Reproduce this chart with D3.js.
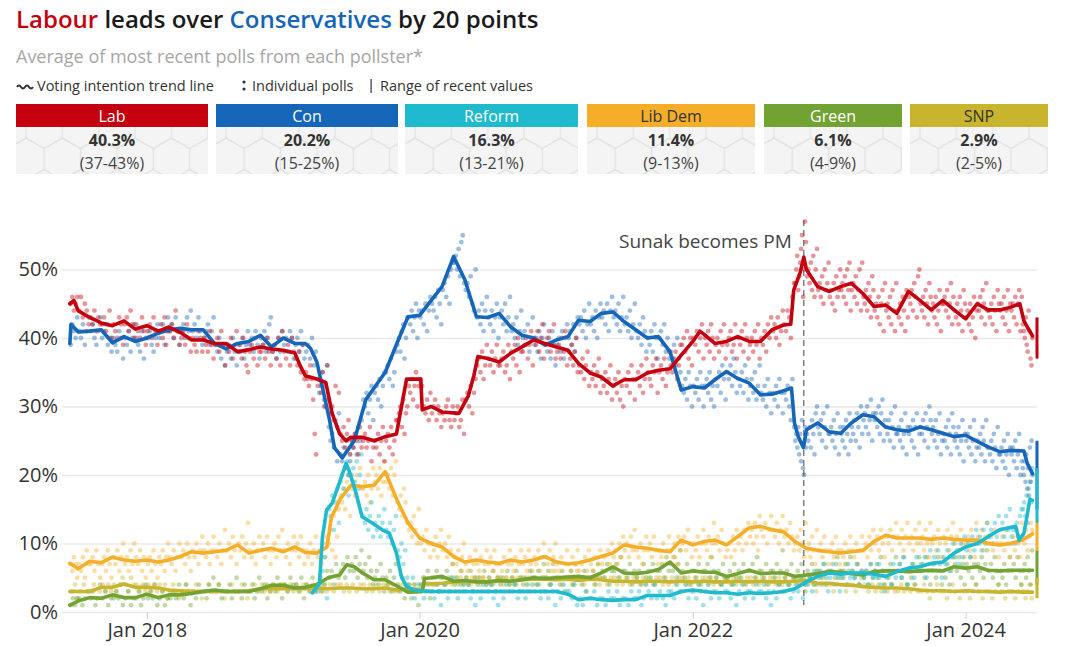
<!DOCTYPE html>
<html><head><meta charset="utf-8">
<script src="https://cdn.jsdelivr.net/npm/d3@7"></script>
<style>
body{margin:0;background:#fff;font-family:"Open Sans",sans-serif;}
svg{display:block}
</style></head><body>
<svg id="c" width="1080" height="646"></svg>
<script>
// ---------- DATA ----------
const parties   = ["Lab","Con","Reform","Lib Dem","Green","SNP"];
const colours   = ["#c4000f","#1565b8","#1fbacd","#f5ae28","#71a232","#c9b42e"];
const latest    = [40.3,20.2,16.3,11.4,6.1,2.9];
const rangeLo   = [37,15,13,9,4,2];
const rangeHi   = [43,25,21,13,9,5];
const yTicks    = [0,10,20,30,40,50];
const xTicks    = ["2018-01","2020-01","2022-01","2024-01"];
const sunakDate = "2022-10-25";
const sunakLabel= "Sunak becomes PM";

const labTrend = [["2017-06-09",45],["2017-06-20",45.5],["2017-07",44],["2017-08",43],["2017-09",42.2],["2017-10",41.8],["2017-11",42.5],["2017-12",41.3],["2018-01",41.8],["2018-02",41],["2018-03",41.6],["2018-04",40.8],["2018-05",39.7],["2018-06",39.7],["2018-07",39.2],["2018-08",39.2],["2018-09",38],["2018-10",38.3],["2018-11",38.7],["2018-12",38.4],["2019-01",38.2],["2019-02",37.8],["2019-02-15",36],["2019-03",34.5],["2019-04",34],["2019-04-25",33.5],["2019-05-12",29],["2019-06",26],["2019-06-18",25],["2019-07",25.5],["2019-08",25.5],["2019-09",25],["2019-10",25.6],["2019-10-31",26],["2019-11-27",34],["2020-01-04",34],["2020-01-08",29.5],["2020-02",30],["2020-03",29.2],["2020-04-15",29],["2020-05-10",31.5],["2020-05-25",34.5],["2020-06-05",37.3],["2020-07",37],["2020-08",36.5],["2020-09",37.8],["2020-10",38.7],["2020-11",39.7],["2020-12",39.2],["2021-01",38.7],["2021-02",38.2],["2021-03",36.3],["2021-04",34.9],["2021-05",34.3],["2021-06",33],["2021-07",33.9],["2021-08",33.9],["2021-09",34.9],["2021-10",35.3],["2021-11",35.5],["2021-12",37.5],["2022-01",39.5],["2022-01-20",41],["2022-02",40.5],["2022-03",39.2],["2022-04",39.5],["2022-05",40.2],["2022-06",39.5],["2022-07",39.5],["2022-08",41.2],["2022-09",41.9],["2022-09-20",42],["2022-09-28",47],["2022-10-15",49.5],["2022-10-25",51.8],["2022-11",50],["2022-12",47.5],["2023-01",46.8],["2023-02",47.5],["2023-03",48],["2023-04",46.5],["2023-05",44.6],["2023-06",44.8],["2023-07",43.6],["2023-08",46.8],["2023-09",45.5],["2023-10",44.1],["2023-11",45.5],["2023-12",44.1],["2024-01",42.8],["2024-02",45],["2024-03",44.1],["2024-04",44.1],["2024-05",44.5],["2024-05-25",45],["2024-06-05",42.5],["2024-06-15",41.5],["2024-06-28",40.3]];

const conTrend = [["2017-06-09",39.2],["2017-06-12",42],["2017-07",40.9],["2017-08",41],["2017-09",41.2],["2017-10",39.3],["2017-11",40.2],["2017-12",39.5],["2018-01",40],["2018-02",40.7],["2018-03",41.2],["2018-04",41.4],["2018-05",41.2],["2018-06",41.2],["2018-07",39.2],["2018-08",38.4],["2018-09",39.2],["2018-10",39.5],["2018-11",40.4],["2018-12",38.7],["2019-01",40],["2019-02",39.2],["2019-03",39.2],["2019-03-15",38.5],["2019-04",36.5],["2019-04-15",33],["2019-05-05",28],["2019-05-18",24],["2019-06-08",22.5],["2019-07-10",25],["2019-08-10",31],["2019-09-05",33],["2019-10",35],["2019-11",39.2],["2019-12",43.1],["2020-01",43.3],["2020-02",45.5],["2020-03",47.5],["2020-04",51.9],["2020-05",48.5],["2020-06",43.1],["2020-07",43],["2020-08",43.6],["2020-09",41.6],["2020-10",40.4],["2020-11",40],["2020-12",39],["2021-01",39.7],["2021-02",40.2],["2021-03",42.6],["2021-04",42.4],["2021-05",43.6],["2021-06",43.8],["2021-07",42.4],["2021-08",41.2],["2021-09",40],["2021-10",40.2],["2021-11",38],["2021-12",32.4],["2022-01",32.9],["2022-02",32.7],["2022-03",33.9],["2022-04",35.1],["2022-05",34.1],["2022-06",33.4],["2022-07",31.7],["2022-08",31.8],["2022-09",32.3],["2022-09-22",32.7],["2022-09-30",27.6],["2022-10-10",25.6],["2022-10-24",24],["2022-11",26.6],["2022-12",27.6],["2023-01",26.3],["2023-02",26.1],["2023-03",27.6],["2023-04",28.8],["2023-05",28.5],["2023-06",27],["2023-07",26.6],["2023-08",26.4],["2023-09",27],["2023-10",26.6],["2023-11",26.1],["2023-12",25.6],["2024-01",25.8],["2024-02",24.9],["2024-03",24.1],["2024-04",23.4],["2024-05",23.6],["2024-06-05",23.5],["2024-06-14",21.7],["2024-06-28",20.2]];

const reformTrend = [["2019-03-20",2.8],["2019-04-08",4.2],["2019-04-16",11],["2019-04-27",14.9],["2019-05-12",15.9],["2019-05-31",18.8],["2019-06-18",21.7],["2019-06-26",20.7],["2019-07-15",17.3],["2019-07-31",13.9],["2019-08-27",13],["2019-09-23",12],["2019-10-12",11.5],["2019-10-31",8.6],["2019-11-13",5.2],["2019-11-27",3.7],["2019-12-19",3.2],["2020-01",3.1],["2020-02",3],["2020-03",3],["2020-04",3],["2020-05",3],["2020-06",3],["2020-07",3],["2020-08",3],["2020-09",3],["2020-10",3],["2020-11",3],["2020-12",3],["2021-01",3],["2021-02",2.6],["2021-03",1.8],["2021-04",2],["2021-05",1.8],["2021-06",1.7],["2021-07",1.8],["2021-08",1.8],["2021-09",2.4],["2021-10",2.4],["2021-11",2.4],["2021-12",3],["2022-01",3.2],["2022-02",3],["2022-03",2.8],["2022-04",2.8],["2022-05",2.6],["2022-06",2.8],["2022-07",2.7],["2022-08",2.8],["2022-09",3],["2022-10",3.4],["2022-11",4.4],["2022-12",5.2],["2023-01",5.7],["2023-02",5.5],["2023-03",5.7],["2023-04",5.7],["2023-05",5.5],["2023-06",5.2],["2023-07",5.9],["2023-08",6.4],["2023-09",6.6],["2023-10",7.1],["2023-11",7.3],["2023-12",8.6],["2024-01",9.5],["2024-02",10],["2024-03",11],["2024-04",12],["2024-05-14",12.5],["2024-05-23",10.5],["2024-06-05",11.5],["2024-06-13",13.9],["2024-06-21",16.5],["2024-06-28",16.3]];

const ldTrend = [["2017-06-09",7.1],["2017-07",6.3],["2017-08",7.4],["2017-09",7.2],["2017-10",8],["2017-11",7.6],["2017-12",7.4],["2018-01",7.6],["2018-02",7.3],["2018-03",7.6],["2018-04",8.1],["2018-05",8.8],["2018-06",8.6],["2018-07",8.8],["2018-08",9],["2018-09",9.8],["2018-10",8.6],["2018-11",9],["2018-12",9.3],["2019-01",8.8],["2019-02",9.5],["2019-03",8.7],["2019-04",8.6],["2019-04-28",9.5],["2019-05-10",13.9],["2019-05-20",14.9],["2019-06",16.4],["2019-07",18.5],["2019-08",18.3],["2019-09",18.5],["2019-10",20.5],["2019-11",16.4],["2019-12",13],["2020-01",10.8],["2020-02",10],["2020-03",9.5],["2020-04",8.1],["2020-05",7.3],["2020-06",7.6],["2020-07",7.3],["2020-08",7.1],["2020-09",7.6],["2020-10",7.3],["2020-11",7.6],["2020-12",8.1],["2021-01",7.3],["2021-02",7],["2021-03",7.2],["2021-04",7.6],["2021-05",8.1],["2021-06",8.6],["2021-07",9.8],["2021-08",9.5],["2021-09",9.3],["2021-10",9],["2021-11",8.8],["2021-12",10.5],["2022-01",9.8],["2022-02",10.3],["2022-03",10.5],["2022-04",9.8],["2022-05",11],["2022-06",12.3],["2022-07",12.5],["2022-08",12],["2022-09",11.7],["2022-10",10.3],["2022-11",9.3],["2022-12",9],["2023-01",8.8],["2023-02",8.6],["2023-03",8.8],["2023-04",9],["2023-05",10.3],["2023-06",11.2],["2023-07",10.8],["2023-08",10.8],["2023-09",10.8],["2023-10",10.6],["2023-11",10.8],["2023-12",10.6],["2024-01",10.5],["2024-02",10.5],["2024-03",10],["2024-04",9.8],["2024-05",10],["2024-06",10.5],["2024-06-28",11.4]];

const greenTrend = [["2017-06-09",1],["2017-07",1.6],["2017-08",2.1],["2017-09",2],["2017-10",2.5],["2017-11",2.1],["2017-12",2.1],["2018-01",2.6],["2018-02",2.1],["2018-03",2.5],["2018-04",2.5],["2018-05",2.7],["2018-06",3],["2018-07",3.2],["2018-08",3],["2018-09",3],["2018-10",3],["2018-11",3.4],["2018-12",3.9],["2019-01",3.9],["2019-02",3.5],["2019-03",3.6],["2019-04",4],["2019-05",5],["2019-06",5.4],["2019-06-20",6.9],["2019-07-10",6.6],["2019-08",5.7],["2019-09",4.7],["2019-10",4.7],["2019-11",3.8],["2019-12",2.9],["2020-01-08",3],["2020-01-14",4.9],["2020-02",5],["2020-03",5.2],["2020-04",4.5],["2020-05",4.6],["2020-06",4.4],["2020-07",4.4],["2020-08",4.6],["2020-09",4.5],["2020-10",4.7],["2020-11",5],["2020-12",4.9],["2021-01",5],["2021-02",5.1],["2021-03",5.2],["2021-04",5],["2021-05",5.7],["2021-06",6.6],["2021-07",5.7],["2021-08",5.6],["2021-09",5.8],["2021-10",6.2],["2021-11",7.3],["2021-12",5.7],["2022-01",6],["2022-02",5.8],["2022-03",5.8],["2022-04",5.2],["2022-05",5.6],["2022-06",6.1],["2022-07",5.6],["2022-08",5.7],["2022-09",5.7],["2022-10",5.2],["2022-11",5.4],["2022-12",5.6],["2023-01",5.9],["2023-02",5.8],["2023-03",5.6],["2023-04",5.4],["2023-05",5.9],["2023-06",6],["2023-07",6],["2023-08",5.9],["2023-09",6],["2023-10",6.1],["2023-11",6],["2023-12",6.6],["2024-01",6.4],["2024-02",6.6],["2024-03",6.1],["2024-04",6],["2024-05",6.1],["2024-06",6.1],["2024-06-28",6.1]];

const snpTrend = [["2017-06-09",3],["2017-07",3],["2017-08",3],["2017-09",3.6],["2017-10",3.6],["2017-11",4.1],["2017-12",3.6],["2018-01",3.6],["2018-02",3.5],["2018-03",3.2],["2018-04",3.1],["2018-05",3],["2018-06",3],["2018-07",3],["2018-08",3],["2018-09",3],["2018-10",3.1],["2018-11",3.4],["2018-12",3.4],["2019-01",3.4],["2019-02",3.4],["2019-03",3.4],["2019-04",3.5],["2019-05",3.4],["2019-06",3.5],["2019-07",3.5],["2019-08",3.4],["2019-09",3.4],["2019-10",3.5],["2019-11",3.2],["2019-12",3.4],["2020-01-08",3.3],["2020-01-14",4.2],["2020-02",4.1],["2020-03",4.2],["2020-04",4.4],["2020-05",4.4],["2020-06",4.5],["2020-07",4.4],["2020-08",4.5],["2020-09",4.5],["2020-10",4.7],["2020-11",4.8],["2020-12",4.8],["2021-01",4.7],["2021-02",4.8],["2021-03",4.6],["2021-04",4.8],["2021-05",4.7],["2021-06",4.5],["2021-07",4.5],["2021-08",4.4],["2021-09",4.5],["2021-10",4.5],["2021-11",4.4],["2021-12",4.5],["2022-01",4.4],["2022-02",4.5],["2022-03",4.4],["2022-04",4.4],["2022-05",4.5],["2022-06",4.4],["2022-07",4.5],["2022-08",4.4],["2022-09",4.4],["2022-10",4.5],["2022-11",4.6],["2022-12",4.2],["2023-01",4.2],["2023-02",4],["2023-03",3.9],["2023-04",3.7],["2023-05",3.6],["2023-06",3.5],["2023-07",3.5],["2023-08",3.4],["2023-09",3.2],["2023-10",3.1],["2023-11",3.1],["2023-12",3],["2024-01",3.1],["2024-02",3],["2024-03",3],["2024-04",2.9],["2024-05",3],["2024-06",2.9],["2024-06-28",2.9]];

// Individual polls: one string per month (Jun 2017 onwards), integer poll shares
const labPolls = ["45 46 44 45 46","44 46 43 45 44 42","43 42 44 41 43 42","42 43 41 42 44 40","42 41 40 43 42 39","42 43 41 44 42 40","42 41 40 43 41 39","41 42 40 43 41 39","41 42 40 43 39 41","41 42 40 44 41 39","40 41 39 42 40 38","40 39 38 41 40 38","40 39 38 41 39 37","39 40 38 41 39 36","39 38 40 37 39 41","38 39 37 40 38 36 35","38 39 37 40 36 38","38 39 37 40 38 36","38 39 37 40 36 41","38 37 39 36 40 38","37 36 38 35 39 34","35 34 33 36 34 31 26 23","33 34 32 35 30 33 36","31 29 30 28 33 27 32","26 25 27 24 26 28 23","25 24 26 25 23 27 24","25 26 24 25 27 22 24","25 24 26 23 25 27 22","25 26 24 27 23 25 28","28 29 30 27 31 26 29 30","33 32 34 31 33 35 30 33","34 33 30 29 31 28 32","29 30 31 28 30 29 27","29 28 30 31 28 27 30","28 29 30 27 28 31 26","31 32 30 33 29 32 34","36 37 35 38 34 36 39","37 36 38 35 37 39 36","36 37 38 35 36 39 34","38 37 39 36 40 35 38","38 39 40 37 39 41 36","40 39 41 38 40 42 37","39 40 41 38 39 42 37","38 39 37 40 38 41 36","38 37 39 36 38 40 35","36 35 37 34 36 38 33","35 34 36 33 35 37 32","34 33 35 32 34 36 31","33 34 32 35 31 33 30","34 33 35 32 36 34 31","34 35 33 36 32 34 37","35 34 33 36 35 37 32","35 36 34 37 33 35 38","36 35 37 38 34 36 39","39 40 38 41 37 40 36","40 39 41 38 40 42 37","40 39 41 38 42 40 37","39 40 38 41 39 42 37","39 40 41 38 39 42 37","40 39 41 38 42 40 37","39 40 38 41 39 42 37","40 39 41 38 42 40 43","41 42 40 43 39 41 44","42 41 44 43 40 46 48","48 50 52 47 49 51 53 55 46 50 57 54","49 50 48 51 47 52 46 50 53","47 48 46 49 45 50 47 48 51","46 47 45 48 44 49 46 47 50","47 48 46 49 45 50 47 51 44","47 48 46 49 45 47 50 44 51","46 45 47 44 48 46 43 49 47","44 45 43 46 42 45 47 41 48","44 45 43 46 42 47 44 41 48","44 43 45 42 46 44 41 47 43","46 45 47 44 48 46 43 49 50","45 44 46 43 47 45 42 48 46","44 45 43 46 42 44 47 41 45","45 46 44 47 43 45 48 42 46","44 43 45 42 46 44 41 47 45","43 44 42 45 41 43 46 40 44","45 44 46 43 47 45 42 48 44","44 43 45 42 46 44 41 47 45","44 45 43 46 42 44 47 41 45","44 45 43 46 42 45 47 41 46","42 41 40 43 39 38 44 41 37 36 40"];

const conPolls = ["39 42 41 40 43","41 40 42 39 41 43","41 42 40 39 41 43","40 41 42 39 40 38","40 39 38 41 40 37","40 39 41 38 40 42","40 39 38 41 37 40","40 41 39 38 40 42","40 41 42 39 41 43","41 42 40 43 41 39","41 42 40 43 41 44","41 42 40 43 41 39","40 41 42 39 41 43","39 38 40 37 39 36","38 39 37 40 38 36","39 38 40 37 39 41","39 40 38 41 39 37","40 39 41 38 40 42 43","38 39 37 40 38 41","39 40 38 41 40 37","39 40 38 41 39 37","38 39 37 40 36 38","34 32 33 35 31 30 36","27 25 26 24 28 22 29","23 22 24 21 25 20 22","25 24 26 23 27 25 28","31 30 32 29 31 33 28","32 33 31 34 30 33 35","35 36 34 37 33 35 38","39 40 38 41 42 37 40 43","43 42 44 41 43 45 40 44","43 44 42 45 41 44 46","45 44 46 43 47 45 42","47 48 46 49 45 50 51","51 52 50 53 49 54 55 48","47 48 46 49 45 44 50","43 44 42 45 41 44 46","43 42 44 41 43 45 40","43 44 42 45 41 43 46","41 42 40 43 39 41 44","40 41 39 42 38 40 43","39 40 38 41 37 40 42","39 38 40 37 41 39 36","39 40 38 41 37 40 42","40 41 39 42 38 40 43","42 43 41 44 40 42 45","42 43 41 44 40 43 45","43 44 42 45 41 44 46","43 44 42 45 41 43 46","42 43 41 44 40 42 45","41 40 42 39 43 41 38","40 39 41 38 42 40 37","40 41 39 42 38 40 37","38 37 39 36 40 37 35","33 32 34 31 35 33 30","33 32 34 31 35 33 30","33 34 32 35 31 33 30","34 33 35 32 36 34 31","35 34 36 33 37 35 32","34 33 35 32 36 34 31","33 34 32 35 31 33 36","32 31 33 30 34 32 29","32 31 33 30 34 32 29","32 31 33 30 28 34 27","25 26 24 27 23 26 22 28 21 20 27 24","26 25 27 24 28 26 23 29 30","27 26 28 25 29 27 24 30 26","26 27 25 28 24 26 29 23 27","26 25 27 24 28 26 23 29 25","27 26 28 25 29 27 24 30 26","28 29 27 30 26 28 31 25 29","28 29 27 30 26 29 31 25 28","27 26 28 25 29 27 24 30 26","26 27 25 28 24 26 29 23 27","26 27 25 28 24 27 29 23 26","27 26 28 25 29 27 24 30 28","26 27 25 28 24 26 29 23 25","26 25 27 24 28 26 23 29 27","25 26 24 27 23 25 28 22 26","25 26 24 27 23 25 28 22 24","25 24 26 23 27 25 22 28 24","24 23 25 22 26 24 21 27 23","23 24 22 25 21 23 26 20 24","23 24 22 25 21 23 26 20 22","21 20 22 19 23 18 21 17 24 19 25 20"];

const ldPolls = ["7 6 8 7 5","7 6 8 5 9 7","7 8 6 9 7 5","7 8 6 9 7 5","8 7 9 6 8 10","7 8 6 9 7 10","8 7 9 6 8 5","7 8 6 9 7 5","8 7 9 6 8 10","8 7 9 6 8 10","8 9 7 10 8 6","9 8 10 7 9 11","9 8 10 7 9 11","9 8 10 7 9 12","9 10 8 11 9 7","10 9 11 8 10 13","9 8 10 7 9 11","9 10 8 11 9 7","9 10 8 11 9 12","9 8 10 7 9 11","9 10 8 11 9 7","9 8 10 7 9 11","8 9 7 10 8 11","10 12 9 14 8 11 15","17 16 18 15 19 20 14","18 19 17 20 16 21 18","18 19 17 20 16 18 21","19 20 18 21 17 19 22","19 20 18 21 17 20 22","16 15 17 14 18 16 13","12 13 11 14 12 10 15","10 11 9 12 10 8","10 9 11 8 10 12","9 10 8 11 9 7","8 7 9 6 8 10","7 6 8 5 7 9","7 6 8 5 7 9","7 8 6 9 7 5","7 6 8 5 7 9","7 6 8 5 7 9","7 8 6 9 7 5","8 7 9 6 8 10","8 7 9 6 8 10","7 6 8 5 7 9","7 6 8 5 7 9","6 7 5 8 6 9","7 6 8 5 7 9","7 8 6 9 7 10","8 9 7 10 8 11","9 10 8 11 9 12","9 8 10 7 9 11","9 10 8 11 9 7","9 8 10 7 9 11","9 8 10 7 11 9","10 11 9 12 10 8","10 9 11 8 10 12","10 9 11 8 10 13","10 11 9 12 10 8","9 10 8 11 9 12","10 11 9 12 10 13","11 12 10 13 11 9 14","12 11 13 10 12 14","12 11 13 10 12 14","11 12 10 13 11 9","10 11 9 12 10 8 13","9 10 8 11 9 7 12","9 10 8 11 9 7","9 10 8 11 9 7","9 8 10 7 9 11","9 8 10 7 9 11","9 10 8 11 9 12","10 11 9 12 10 8","11 10 12 9 11 13","11 10 12 9 11 13","10 11 9 12 10 13","10 11 9 12 10 8 13","10 11 9 12 10 8","11 10 12 9 11 13","10 11 9 12 10 8","10 11 9 12 10 8 13","11 10 12 9 11 13","10 11 9 12 10 8","10 11 9 12 10 8","10 11 9 12 10 8 13","11 10 12 9 11 13 12"];

const reformPollsStart = "2019-04";
const reformPolls = ["3 4 6 8 2","15 14 17 12 16 18 13","19 20 18 21 22 17 23","20 21 19 22 18 20 23","14 13 15 12 14 16 11","13 12 14 11 13 15","12 11 13 10 12 14","9 8 10 7 9 5","4 3 5 2 3 4","3 2 4 3","3 2 4 3 1","3 4 2 3 5","3 2 4 3","3 4 2 3 1","3 2 4 3","3 4 2 3 1","3 2 4 3","3 4 2 3","3 2 4 3 5","3 4 2 3","3 2 4 3 1","3 2 4 3","3 2 4 1","2 1 3 2","2 3 1 2","2 1 3 2","2 3 1 2","2 1 3 2","2 3 1 2 4","3 2 4 2","3 2 1 3","3 2 4 3","3 4 2 3","3 2 4 3 1","3 4 2 3","3 2 4 3","3 2 4 1","3 4 2 3","3 2 4 3","3 4 2 3 1","3 2 4 3","3 4 2 3","4 3 5 2 4","4 5 3 6 4","5 6 4 7 5 3","5 6 4 7 5 3","5 6 4 7 5","6 5 7 4 6","5 6 4 7 5","6 5 7 4 6 3","5 6 4 7 5","6 7 5 8 6 4","6 7 5 8 6","7 6 8 5 7 9","7 8 6 9 7 5","8 7 9 6 8 10","8 9 7 10 8 11","9 10 8 11 9 12","10 11 9 12 10 13","11 12 10 13 11 14","12 13 11 14 12 15","11 12 10 13 11 14 15","15 16 14 17 13 18 19 16 21"];

const greenPolls = ["1 2 1 2","2 1 2 3","2 3 1 2 4","2 3 1 2","2 3 2 4 1","2 3 1 2","2 3 1 2 4","2 3 2 4 1","2 3 1 2","2 3 2 4","3 2 4 3 1","3 2 4 3","3 2 4 3 5","3 4 2 3","3 4 2 3 5","3 2 4 3","3 4 2 3 5","3 4 2 3","4 3 5 4 2","4 3 5 4","4 3 5 2","4 3 5 3","4 5 3 4 6","5 6 4 7 5","6 7 5 8 6","7 6 8 5 7 9","6 7 5 8 6 4","5 6 4 7 5 3","5 4 6 3 5 7","4 3 5 2 4","3 2 4 3 1","4 5 3 6 2","5 4 6 3 5","5 4 6 3 5 7","4 5 3 6 4","5 4 6 3 5","4 5 3 6 4","5 4 6 3 5","4 5 3 6 4","5 4 6 3 5","4 5 3 6 4","5 4 6 3 5 7","5 6 4 7 5","5 4 6 3 5","5 6 4 7 5","5 4 6 3 5","5 6 4 7 5","6 5 7 4 6","6 7 5 8 6","6 5 7 4 6","5 6 4 7 5","6 5 7 4 6","6 7 5 8 6","7 6 8 5 7 9","6 5 7 4 6","6 5 7 4 6","6 7 5 8 6","5 6 4 7 5","5 6 4 7 5","6 5 7 4 6","6 7 5 8 6","6 5 7 4 6","6 5 7 4 6 9","5 6 4 7 5","5 6 4 7 5 3","6 5 7 4 6","6 5 7 4 6","6 7 5 8 6","6 5 7 4 6 8","6 5 7 4 6","5 6 4 7 5","6 7 5 8 6 4","6 5 7 4 6 8","6 7 5 8 6 4","6 5 7 4 6 8","6 7 5 8 6 4","6 7 5 8 6 4","6 5 7 4 6 8","7 6 8 5 7 4","7 6 8 5 7 4","7 6 8 5 7 9","6 7 5 8 6 4","6 5 7 4 6 8","6 7 5 8 6 4","6 7 5 8 6 4 9"];

const snpPolls = ["3 3 4 2","3 4 3","3 4 2 3","4 3 4 3","4 3 4 5","4 3 5 4","4 3 4 3","4 3 4 3","4 3 4 2","3 4 3 2","3 4 3","3 4 3 2","3 4 3","3 4 3 2","3 4 3","3 4 3 2","3 4 3","4 3 4 3","4 3 4","4 3 4 3","4 3 4","4 3 4 3","4 3 4 3","4 3 4","4 3 4 3","4 3 4","4 3 4 3","4 3 4","4 3 4 3","3 4 3","4 3 4 3","4 5 3 4","4 5 4 3","4 5 4","5 4 5 4","5 4 5","5 4 5 4","5 4 5","5 4 5 4","5 4 5","5 4 5 6","5 4 5","5 4 5 6","5 4 5","5 4 5 6","5 4 5","5 4 5 4","5 4 5","5 4 5 4","5 4 5","5 4 5 4","5 4 5","5 4 5 4","5 4 5","5 4 5 4","5 4 5","5 4 5 4","5 4 5","5 4 5 4","5 4 5","5 4 5 4","5 4 5","5 4 5 4","5 4 5","4 5 4","4 5 4 3","4 5 4","4 3 4 5","4 3 4","4 3 4 5","4 3 4","3 4 3 4","3 4 3","3 4 3 4","3 4 3","3 4 3 2","3 4 3","3 2 3 4","3 2 3","3 2 3 4","3 2 3","3 2 3 4","3 2 3","3 2 3 4","3 2 3 4 2"];

// ---------- CHART ----------
const svg = d3.select("#c");
const FONT = '"Open Sans", sans-serif';
const pd = s => s.length === 7 ? d3.timeParse("%Y-%m")(s) : d3.timeParse("%Y-%m-%d")(s);

const trends  = [labTrend, conTrend, reformTrend, ldTrend, greenTrend, snpTrend];
const pollSets = [
  {p:0, start:"2017-06", list:labPolls},
  {p:1, start:"2017-06", list:conPolls},
  {p:2, start:reformPollsStart, list:reformPolls},
  {p:3, start:"2017-06", list:ldPolls},
  {p:4, start:"2017-06", list:greenPolls},
  {p:5, start:"2017-06", list:snpPolls}
];

// Title
const title = svg.append("text").attr("x",16).attr("y",28)
  .style("font-family",FONT).style("font-size","24px").style("font-weight",600).attr("fill","#1a1a1a");
title.append("tspan").attr("fill",colours[0]).text("Labour");
title.append("tspan").text(" leads over ");
title.append("tspan").attr("fill",colours[1]).text("Conservatives");
title.append("tspan").text(" by 20 points");

svg.append("text").attr("x",16).attr("y",63).style("font-family",FONT).style("font-size","18px")
  .attr("fill","#a6a6a6").text("Average of most recent polls from each pollster*");

// legend line
const lg = svg.append("g").style("font-family",FONT).style("font-size","14.5px").attr("fill","#333");
lg.append("path").attr("d","M17,87 q2,-3 4,0 t4,0 t4,0 t4,0").attr("fill","none").attr("stroke","#333").attr("stroke-width",2);
lg.append("text").attr("x",37).attr("y",91).text("Voting intention trend line");
lg.append("circle").attr("cx",244).attr("cy",82).attr("r",1.6).attr("fill","#333");
lg.append("circle").attr("cx",244).attr("cy",89).attr("r",1.6).attr("fill","#333");
lg.append("text").attr("x",252).attr("y",91).text("Individual polls");
lg.append("rect").attr("x",370.5).attr("y",79).attr("width",1.2).attr("height",14).attr("fill","#333");
lg.append("text").attr("x",380).attr("y",91).text("Range of recent values");

// hex pattern
const defs = svg.append("defs");
const r = 21, hw = r*Math.sqrt(3);
const pat = defs.append("pattern").attr("id","hex").attr("patternUnits","userSpaceOnUse")
  .attr("width",hw).attr("height",3*r).attr("x",10).attr("y",118);
pat.append("rect").attr("width",hw).attr("height",3*r).attr("fill","#f4f4f4");
const hexPath = (cx,cy) => {
  const pts = d3.range(6).map(i => { const a = Math.PI/3*i + Math.PI/6; return [cx + r*Math.cos(a), cy + r*Math.sin(a)]; });
  return "M" + pts.map(p => p.join(",")).join("L") + "Z";
};
[[0,0],[hw,0],[hw/2,1.5*r],[0,3*r],[hw,3*r]].forEach(([cx,cy]) =>
  pat.append("path").attr("d",hexPath(cx,cy)).attr("fill","none").attr("stroke","#e3e3e3").attr("stroke-width",1.2));

// party boxes
const boxX = [16,216,405,587,764,910];
const boxW = [192,182,173,168,138,138];
const darkHead = [false,false,false,true,false,true];
const bx = svg.append("g").style("font-family",FONT);
parties.forEach((p,i) => {
  const g = bx.append("g").attr("transform",`translate(${boxX[i]},104)`);
  g.append("rect").attr("width",boxW[i]).attr("height",23).attr("fill",colours[i]);
  g.append("rect").attr("y",23).attr("width",boxW[i]).attr("height",47).attr("fill","url(#hex)");
  g.append("text").attr("x",boxW[i]/2).attr("y",17.5).attr("text-anchor","middle").style("font-size","16px")
    .attr("fill",darkHead[i] ? "#333" : "#fff").text(p);
  g.append("text").attr("x",boxW[i]/2).attr("y",41.5).attr("text-anchor","middle").style("font-size","16px")
    .style("font-weight",700).attr("fill","#333").text(d3.format(".1f")(latest[i]) + "%");
  g.append("text").attr("x",boxW[i]/2).attr("y",64.5).attr("text-anchor","middle").style("font-size","16px")
    .attr("fill","#444").text(`(${rangeLo[i]}-${rangeHi[i]}%)`);
});

// scales
const x = d3.scaleTime().domain([pd("2017-05-19"), pd("2024-07-10")]).range([62,1037]);
const y = d3.scaleLinear().domain([0,50]).range([612,269.5]);

// y grid + labels
const ya = svg.append("g").attr("transform","translate(62,0)")
  .call(d3.axisLeft(y).tickValues(yTicks).tickSize(-975).tickPadding(4).tickFormat(d => d + "%"));
ya.select(".domain").remove();
ya.selectAll(".tick line").attr("stroke","#e8e8e8").attr("stroke-width",1.5);
ya.selectAll(".tick text").style("font-family",FONT).style("font-size","20px").attr("fill","#333");

// x axis
const xa = svg.append("g").attr("transform","translate(0,612)")
  .call(d3.axisBottom(x).tickValues(xTicks.map(pd)).tickSize(7).tickPadding(4).tickFormat(d3.timeFormat("Jan %Y")));
xa.select(".domain").remove();
xa.selectAll(".tick line").attr("stroke","#d6d6d6").attr("stroke-width",1.2);
xa.selectAll(".tick text").style("font-family",FONT).style("font-size","20px").attr("fill","#333");

// poll dots
const dots = [];
pollSets.forEach(ps => {
  const s = pd(ps.start);
  ps.list.forEach((str,mi) => {
    let m0 = d3.timeMonth.offset(s, mi);
    let m1 = d3.timeMonth.offset(m0, 1);
    if (+m0 === +pd("2017-06")) m0 = pd("2017-06-09");
    if (+m0 === +pd("2024-06")) m1 = pd("2024-06-29");
    const span = m1 - m0;
    const vals = str.split(" ").map(Number);
    vals.forEach((v,k) => dots.push({p:ps.p, d:new Date(+m0 + span*(k+0.5)/vals.length), v}));
  });
});
const dotOrder = [5,4,3,2,1,0];
svg.append("g").selectAll("circle")
  .data(dots.slice().sort((a,b) => dotOrder.indexOf(a.p) - dotOrder.indexOf(b.p)))
  .join("circle").attr("cx",d => x(d.d)).attr("cy",d => y(d.v)).attr("r",2.4)
  .attr("fill",d => colours[d.p]).attr("fill-opacity",0.42);

// Sunak annotation
const sx = x(pd(sunakDate));
svg.append("line").attr("x1",sx).attr("x2",sx).attr("y1",220).attr("y2",605)
  .attr("stroke","#555").attr("stroke-width",1.1).attr("stroke-dasharray","6,4");
svg.append("text").attr("x",sx-12).attr("y",248).attr("text-anchor","end")
  .style("font-family",FONT).style("font-size","19px").attr("fill","#444").text(sunakLabel);

// trend lines
const line = d3.line().x(d => x(pd(d[0]))).y(d => y(d[1])).curve(d3.curveLinear);
[5,4,3,2,1,0].forEach(i => {
  svg.append("path").datum(trends[i]).attr("d",line).attr("fill","none")
    .attr("stroke",colours[i]).attr("stroke-width",3.6).attr("stroke-linejoin","round").attr("stroke-linecap","round");
});

// range bars
const endX = x.range()[1];
[1,2,3,4,5,0].forEach(i => {
  svg.append("rect").attr("x",endX-1.5).attr("width",3)
    .attr("y",y(rangeHi[i])).attr("height",y(rangeLo[i]) - y(rangeHi[i])).attr("fill",colours[i]);
});
</script></body></html>
